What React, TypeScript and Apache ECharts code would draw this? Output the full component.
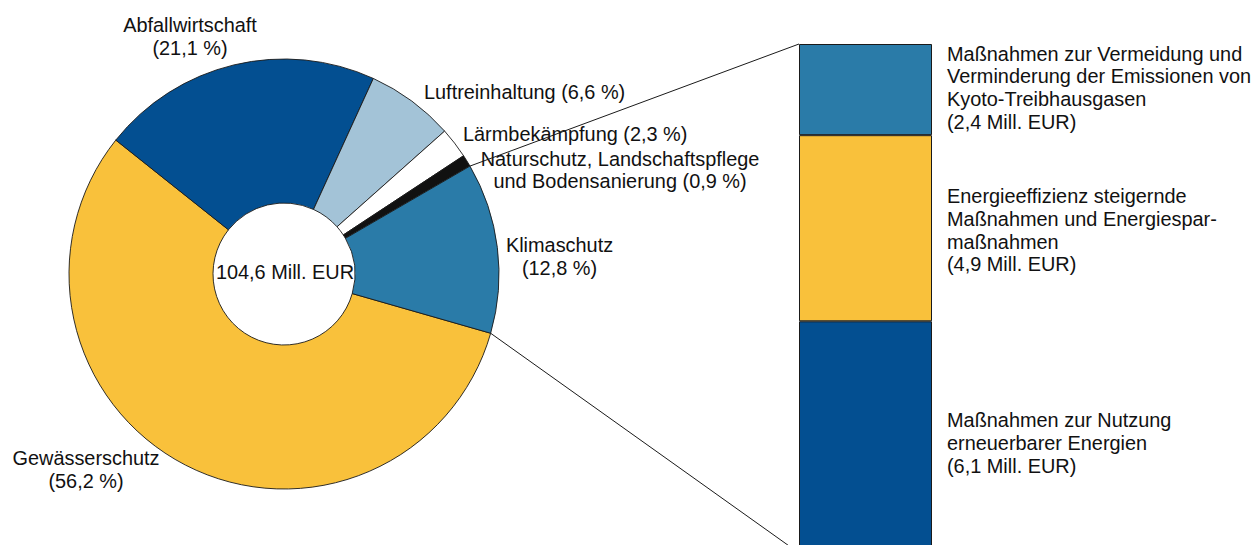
import React, { useEffect, useRef } from "react";
import * as echarts from "echarts";

// ---- data ----
const totalLabel = "104,6 Mill. EUR";
const pieNames = [
  "Gewässerschutz",
  "Abfallwirtschaft",
  "Luftreinhaltung",
  "Lärmbekämpfung",
  "Naturschutz, Landschaftspflege\nund Bodensanierung",
  "Klimaschutz",
];
const piePercents = [56.2, 21.1, 6.6, 2.3, 0.9, 12.8];
const pieColors = ["#F9C13B", "#034F91", "#A3C3D7", "#FFFFFF", "#111111", "#2A7BA8"];

const barNames = [
  "Maßnahmen zur Nutzung\nerneuerbarer Energien",
  "Energieeffizienz steigernde\nMaßnahmen und Energiespar-\nmaßnahmen",
  "Maßnahmen zur Vermeidung und\nVerminderung der Emissionen von\nKyoto-Treibhausgasen",
];
const barValues = [6.1, 4.9, 2.4];
const barColors = ["#034F91", "#F9C13B", "#2A7BA8"];

// ---- layout / style ----
const FONT = '"Liberation Sans", Arial, Helvetica, sans-serif';
const FS = 19.9;
const LH = 22.7;
const PIE_CX = 284;
const PIE_CY = 274;
const PIE_R0 = 71;
const PIE_R = 215;
const START_ANGLE = 344;
const GRID_LEFT = 799;
const GRID_TOP = 44;
const GRID_W = 133;
const GRID_H = 509;
// label separators & positions (style only)
const pieSep = ["\n", "\n", " ", " ", " ", "\n"];
const pieLabelPos: { x: number; y: number; align: string }[] = [
  { x: 86, y: 469.5, align: "center" },
  { x: 190, y: 36.5, align: "center" },
  { x: 424, y: 92, align: "left" },
  { x: 463, y: 134, align: "left" },
  { x: 620, y: 170, align: "center" },
  { x: 559.5, y: 256.5, align: "center" },
];
const barLabelOffset = [
  [0, 6],
  [0, 2],
  [0, -2],
];

const fmt = (v: number) => v.toFixed(1).replace(".", ",");

export default function App() {
  const ref = useRef<HTMLDivElement>(null);
  useEffect(() => {
    if (!ref.current) return;
    const chart = echarts.init(ref.current, null, { renderer: "svg" });
    const barTotal = barValues.reduce((a, b) => a + b, 0);
    const option: any = {
      animation: false,
      backgroundColor: "#FFFFFF",
      textStyle: { fontFamily: FONT },
      grid: {
        left: GRID_LEFT,
        top: GRID_TOP,
        width: GRID_W,
        height: GRID_H,
        outerBoundsMode: "none",
        containLabel: false,
      },
      xAxis: { type: "category", data: ["Klimaschutz"], show: false },
      yAxis: { type: "value", min: 0, max: barTotal, show: false },
      series: [
        {
          type: "pie",
          center: [PIE_CX, PIE_CY],
          radius: [PIE_R0, PIE_R],
          startAngle: START_ANGLE,
          clockwise: true,
          avoidLabelOverlap: false,
          itemStyle: { borderColor: "#1A1A1A", borderWidth: 0.9 },
          emphasis: { disabled: true },
          label: {
            show: true,
            position: "outside",
            fontFamily: FONT,
            fontSize: FS,
            lineHeight: LH,
            color: "#111111",
            formatter: (p: any) =>
              `${pieNames[p.dataIndex]}${pieSep[p.dataIndex]}(${fmt(piePercents[p.dataIndex])} %)`,
          },
          labelLine: { show: false },
          labelLayout: (p: any) => {
            const pos = pieLabelPos[p.dataIndex];
            return { x: pos.x, y: pos.y, align: pos.align, verticalAlign: "middle" };
          },
          data: pieNames.map((n, i) => ({
            name: n,
            value: piePercents[i],
            itemStyle: { color: pieColors[i] },
          })),
        },
        ...barValues.map((v, i) => ({
          type: "bar",
          stack: "k",
          barWidth: "100%",
          data: [v],
          itemStyle: { color: barColors[i], borderColor: "#1A1A1A", borderWidth: 1 },
          emphasis: { disabled: true },
          label: {
            show: true,
            position: "right",
            distance: 15,
            align: "left",
            offset: barLabelOffset[i],
            fontFamily: FONT,
            fontSize: FS,
            lineHeight: LH,
            color: "#111111",
            formatter: () => `${barNames[i]}\n(${fmt(v)} Mill. EUR)`,
          },
        })),
      ],
    };
    chart.setOption(option);

    // connector lines from Klimaschutz sector to the bar
    const pieSum = piePercents.reduce((a, b) => a + b, 0);
    const klimaIdx = pieNames.indexOf("Klimaschutz");
    const lowerDeg = START_ANGLE;
    const upperDeg = START_ANGLE + (piePercents[klimaIdx] / pieSum) * 360;
    const pt = (deg: number) => [
      PIE_CX + PIE_R * Math.cos((deg * Math.PI) / 180),
      PIE_CY - PIE_R * Math.sin((deg * Math.PI) / 180),
    ];
    const yTop = chart.convertToPixel({ yAxisIndex: 0 }, barTotal) as number;
    const yBot = chart.convertToPixel({ yAxisIndex: 0 }, 0) as number;
    const [ux, uy] = pt(upperDeg);
    const [lx, ly] = pt(lowerDeg);
    chart.setOption({
      graphic: [
        {
          type: "line",
          shape: { x1: ux, y1: uy, x2: GRID_LEFT, y2: yTop },
          style: { stroke: "#1A1A1A", lineWidth: 1 },
          z: 10,
        },
        {
          type: "line",
          shape: { x1: lx, y1: ly, x2: GRID_LEFT, y2: yBot },
          style: { stroke: "#1A1A1A", lineWidth: 1 },
          z: 10,
        },
        {
          type: "text",
          x: PIE_CX + 1,
          y: PIE_CY - 2,
          style: {
            text: totalLabel,
            fontFamily: FONT,
            fontSize: FS,
            fill: "#111111",
            align: "center",
            verticalAlign: "middle",
          },
          z: 10,
        },
      ],
    });
    return () => chart.dispose();
  }, []);
  return (
    <div
      ref={ref}
      style={{ position: "absolute", left: 0, top: 0, width: 1258, height: 545, background: "#fff" }}
    />
  );
}
